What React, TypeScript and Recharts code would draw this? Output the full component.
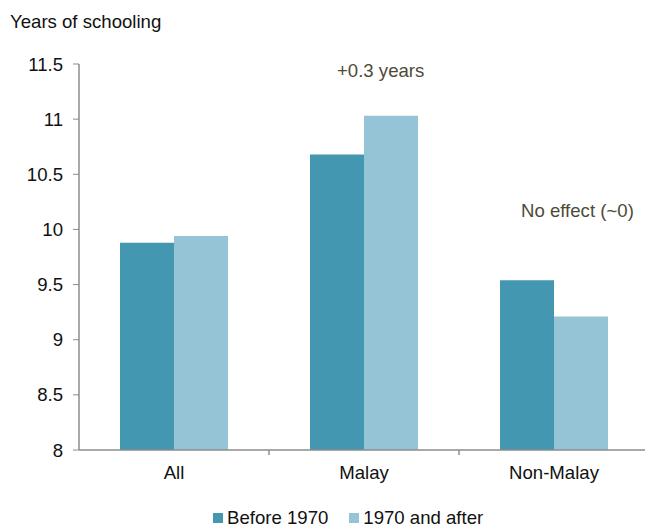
import { Bar, BarChart, XAxis, YAxis } from "recharts";

const groups = ["All", "Malay", "Non-Malay"];
const before1970 = [9.88, 10.68, 9.54];
const after1970 = [9.94, 11.03, 9.21];
const yTicks = [8, 8.5, 9, 9.5, 10, 10.5, 11, 11.5];

const series = [
  { key: "before", name: "Before 1970", color: "#4397b0" },
  { key: "after", name: "1970 and after", color: "#95c4d6" },
];

const rows = groups.map((g, i) => ({ group: g, before: before1970[i], after: after1970[i] }));

const FONT = "'Liberation Sans', Arial, sans-serif";
const FS = 18.6;
const GAP = 16;
const note = { position: "absolute" as const, fontFamily: FONT, fontSize: FS, color: "#4d4b38", whiteSpace: "nowrap" as const };

// category label plus a short tick mark on the boundary to the right of the category
function GroupTick(props: any) {
  const { x, y, payload } = props;
  const half = payload?.offset ?? 0;
  return (
    <g>
      {half > 0 && (
        <line x1={x + half} x2={x + half} y1={y - GAP} y2={y - GAP + 5} stroke="#8c8c8c" strokeWidth={1.5} />
      )}
      <text x={x} y={y} dy="0.71em" textAnchor="middle" fill="#111" fontSize={FS} fontFamily={FONT}>
        {payload.value}
      </text>
    </g>
  );
}

export default function App() {
  return (
    <div style={{ position: "relative", width: 645, height: 527, overflow: "hidden", background: "#fff" }}>
      <style>{"body{margin:0}"}</style>
      <BarChart
        width={650}
        height={527}
        data={rows}
        margin={{ top: 64, right: 1, bottom: 47, left: 0 }}
        barCategoryGap={41}
        barGap={0}
      >
        <XAxis
          dataKey="group"
          height={30}
          axisLine={{ stroke: "#8c8c8c", strokeWidth: 1.5 }}
          tickLine={false}
          tickSize={0}
          tickMargin={GAP}
          tick={<GroupTick />}
        />
        <YAxis
          width={79}
          domain={[8, 11.5]}
          ticks={yTicks}
          interval={0}
          axisLine={{ stroke: "#8c8c8c", strokeWidth: 1.5 }}
          tickLine={{ stroke: "#8c8c8c" }}
          tickSize={6}
          tickMargin={10}
          tick={{ fill: "#111", fontSize: FS, fontFamily: FONT }}
        />
        {series.map((s) => (
          <Bar key={s.key} dataKey={s.key} name={s.name} fill={s.color} isAnimationActive={false} />
        ))}
      </BarChart>

      <div style={{ ...note, left: 10, top: 11, color: "#111" }}>Years of schooling</div>
      <div style={{ ...note, left: 337, top: 60 }}>+0.3 years</div>
      <div style={{ ...note, left: 521, top: 200 }}>No effect (~0)</div>

      <div style={{ position: "absolute", left: 213, top: 507, display: "flex", alignItems: "center", fontFamily: FONT, fontSize: FS, color: "#111" }}>
        {series.map((s, i) => (
          <div key={s.key} style={{ display: "flex", alignItems: "center", marginRight: i === 0 ? 21 : 0 }}>
            <span style={{ display: "inline-block", width: 10, height: 10, background: s.color, marginRight: 4 }} />
            <span>{s.name}</span>
          </div>
        ))}
      </div>
    </div>
  );
}
